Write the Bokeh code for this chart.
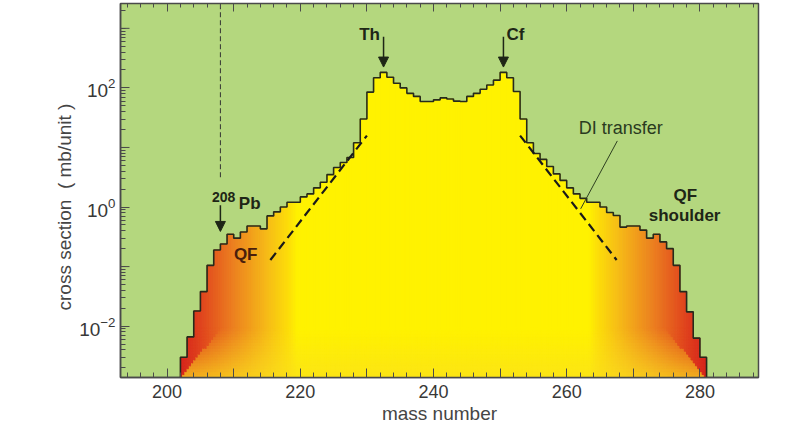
import numpy as np
from bokeh.plotting import figure
from bokeh.models import (ColumnDataSource, LinearAxis, FixedTicker, LogTickFormatter,
                          CustomJSTickFormatter, Arrow, NormalHead, Title)
from bokeh.core.properties import value
from bokeh.embed import file_html
from bokeh.resources import INLINE

# ---------------- data ----------------
mass = list(range(202, 281))          # left edge of each 1-u bin
sigma = [0.0030, 0.0066, 0.018, 0.038, 0.105, 0.19, 0.24, 0.35, 0.30, 0.38,
         0.48, 0.48, 0.43, 0.71, 0.83, 1.0, 1.2, 1.2, 1.48, 1.66,
         2.1, 2.6, 3.5, 4.6, 5.6, 6.8, 12, 30, 85, 148,
         182, 151, 120, 100, 81, 72, 59, 59, 63, 68,
         65, 60, 59, 72, 81, 95, 112, 135, 182, 148,
         87, 30, 12, 7.9, 6.3, 4.8, 3.6, 2.8, 2.1, 1.66,
         1.4, 1.2, 1.2, 1.0, 0.81, 0.72, 0.46, 0.48, 0.48, 0.41,
         0.30, 0.35, 0.26, 0.20, 0.105, 0.038, 0.0174, 0.0063, 0.0030]
x_label_ticks = [200, 220, 240, 260, 280]
y_label_ticks = [1e-2, 1e0, 1e2]

# DI-transfer guide lines (mass, cross section)
di_left_x, di_left_y = [215.5, 230.0], [10 ** -0.89, 10 ** 1.2]
di_right_x, di_right_y = [253.0, 267.5], [10 ** 1.2, 10 ** -0.89]
pb_mass = 208
th_mass, cf_mass = 232.5, 250.5

# ---------------- geometry / style ----------------
X0, X1 = 193.0, 288.8
YL0, YL1 = -2.862, 3.417
PXU = 638 / (X1 - X0)        # px per mass unit
PXD = 377 / (YL1 - YL0)      # px per decade
GREEN = "#b4d77e"
INK = "#1e2616"
AXC = "#454545"
FONT = value("Liberation Sans")

p = figure(width=808, height=426, x_range=(X0, X1), y_range=(10 ** YL0, 10 ** YL1),
           y_axis_type="log", output_backend="svg", toolbar_location=None,
           min_border_left=120, min_border_right=50, min_border_top=3, min_border_bottom=46)
p.background_fill_color = GREEN
p.border_fill_color = "white"
p.outline_line_color = "#4a4a4a"
p.outline_line_width = 1.5
p.grid.visible = False

# ---------------- gradient fill of the histogram ----------------
YB = (251, 224, 30)
H_STOPS = [(0.0, (214, 36, 28)), (3.0, (224, 66, 30)), (8.0, (236, 128, 32)),
           (13.0, (246, 186, 24)), (16.6, (253, 226, 8)), (17.6, (255, 242, 0))]


def hcol(d):
    if d >= H_STOPS[-1][0]:
        return H_STOPS[-1][1]
    for (d0, c0), (d1, c1) in zip(H_STOPS[:-1], H_STOPS[1:]):
        if d <= d1:
            t = (d - d0) / (d1 - d0)
            return tuple(c0[i] + (c1[i] - c0[i]) * t for i in range(3))
    return H_STOPS[0][1]


def mix(a, b, t):
    return tuple(a[i] + (b[i] - a[i]) * t for i in range(3))


def hexc(c):
    return "#%02x%02x%02x" % tuple(int(round(max(0, min(255, v)))) for v in c)


lo_edge, hi_edge = mass[0], mass[-1] + 1
BAND = 50.0
NB = 17
NSUB = 3
W = 0.72
L, R, B_, T, C = [], [], [], [], []
for m, v in zip(mass, sigma):
    lv = np.log10(v)
    for k in range(NSUB):
        x0 = m + k / NSUB
        x1 = m + (k + 1) / NSUB
        xc = 0.5 * (x0 + x1)
        d = min(xc - lo_edge, hi_edge - xc)
        dpx = d * PXU
        H = hcol(d)
        step = BAND / NB
        for j in range(NB):
            b0, b1 = j * step, (j + 1) * step
            l0, l1 = YL0 + b0 / PXD, YL0 + b1 / PXD
            if l0 >= lv:
                break
            l1 = min(l1, lv)
            bc = 0.5 * (b0 + b1)
            col = mix(H, YB, W * (1 - bc / BAND)) if bc < 1.2 * dpx else H
            L.append(x0); R.append(x1); B_.append(10 ** l0); T.append(10 ** l1); C.append(hexc(col))
        l0 = YL0 + BAND / PXD
        if lv > l0:
            L.append(x0); R.append(x1); B_.append(10 ** l0); T.append(v); C.append(hexc(H))

src = ColumnDataSource(dict(left=L, right=R, bottom=B_, top=T, color=C))
p.quad(left="left", right="right", bottom="bottom", top="top", source=src,
       fill_color="color", line_color="color", line_width=1.0)

# outline of the histogram (step line built from the bins)
sx, sy = [mass[0]], [10 ** YL0]
for m, v in zip(mass, sigma):
    sx += [m, m + 1]
    sy += [v, v]
sx.append(mass[-1] + 1)
sy.append(10 ** YL0)
p.line(sx, sy, line_color="#262a1c", line_width=1.6)

# DI transfer dashed lines
p.line(di_left_x, di_left_y, line_color="#1a1a1a", line_width=2.2, line_dash="9 5")
p.line(di_right_x, di_right_y, line_color="#1a1a1a", line_width=2.2, line_dash="9 5")

# 208Pb vertical dashed marker
p.line([pb_mass, pb_mass], [10 ** 0.5, 10 ** YL1], line_color="#333333", line_width=1, line_dash="5 3")

# leader line for DI transfer
p.line([267.6, 262.1], [10 ** 1.11, 10 ** -0.03], line_color="#2e4020", line_width=1)

# arrows
for xm, ys, ye in [(th_mass, 10 ** 2.86, 10 ** 2.35), (cf_mass, 10 ** 2.86, 10 ** 2.35),
                   (pb_mass, 10 ** 0.03, 10 ** -0.41)]:
    p.add_layout(Arrow(end=NormalHead(size=10, fill_color=INK, line_color=INK),
                       x_start=xm, y_start=ys, x_end=xm, y_end=ye,
                       line_color=INK, line_width=1.5))

# annotation texts
p.text(x=[230.4, 252.3, 212.4, 277.8, 277.7], y=[10 ** 2.89, 10 ** 2.89, 10 ** 0.055, 10 ** 0.2, 10 ** -0.15],
       text=["Th", "Cf", "Pb", "QF", "shoulder"], text_font=FONT, text_font_style="bold",
       text_font_size="17px", text_align="center", text_baseline="middle", text_color=INK)
p.text(x=[208.5], y=[10 ** 0.17], text=["208"], text_font=FONT, text_font_style="bold",
       text_font_size="14px", text_align="center", text_baseline="middle", text_color=INK)
p.text(x=[211.8], y=[10 ** -0.79], text=["QF"], text_font=FONT, text_font_style="bold",
       text_font_size="17px", text_align="center", text_baseline="middle", text_color="#4a1e0c")
p.text(x=[268.1], y=[10 ** 1.32], text=["DI transfer"], text_font=FONT,
       text_font_size="18px", text_align="center", text_baseline="middle", text_color="#2a3a1e")

# ---------------- axes ----------------
xt = FixedTicker(ticks=list(range(190, 300, 10)), minor_ticks=list(range(190, 300, 2)))
xa = p.xaxis[0]
xa.ticker = xt
xa.formatter = CustomJSTickFormatter(
    args=dict(labels=x_label_ticks),
    code="return labels.includes(Math.round(tick)) ? String(Math.round(tick)) : '';")
xa.axis_label = "mass number"
xa.axis_label_text_font = "Liberation Sans"
xa.axis_label_text_font_size = "19px"
xa.axis_label_text_font_style = "normal"
xa.axis_label_text_color = AXC
xa.axis_label_standoff = 2

ya = p.yaxis[0]
minor_y = [k * 10.0 ** d for d in range(-3, 4) for k in range(1, 10) if not (k == 1 and d % 2 == 0)]
ya.ticker = FixedTicker(ticks=y_label_ticks, minor_ticks=minor_y)
ya.formatter = LogTickFormatter()

for ax in (xa, ya):
    ax.major_tick_in = 9
    ax.major_tick_out = 0
    ax.minor_tick_in = 5
    ax.minor_tick_out = 0
    ax.major_tick_line_color = "#4a4a4a"
    ax.minor_tick_line_color = "#4a4a4a"
    ax.axis_line_color = "#4a4a4a"
    ax.axis_line_width = 1.5
    ax.major_label_text_font = "Liberation Sans"
    ax.major_label_text_color = "#383838"
xa.major_label_text_font_size = "18px"
ya.major_label_text_font_size = "19px"
xa.major_label_standoff = 7
ya.major_label_standoff = 5

# y title as a side title so it can be shifted like in the reference
p.add_layout(Title(text="cross section\u00a0\u00a0( mb/unit )", align="left", offset=67,
                   standoff=4, text_font="Liberation Sans", text_font_size="19px",
                   text_font_style="normal", text_color=AXC), "left")

top = LinearAxis(ticker=xt, formatter=CustomJSTickFormatter(code="return '';"),
                 major_tick_in=8, major_tick_out=0, minor_tick_in=4, minor_tick_out=0,
                 major_label_standoff=0, major_label_text_font_size="0px",
                 axis_line_color="#4a4a4a", major_tick_line_color="#4a4a4a",
                 minor_tick_line_color="#4a4a4a")
p.add_layout(top, "above")

# long ticks at the unlabeled decades
odd_dec = [10 ** -1, 10 ** 1, 10 ** 3]
p.segment(x0=[X0] * 3, y0=odd_dec, x1=[X0 + 9 / PXU] * 3, y1=odd_dec, line_color="#4a4a4a", line_width=1)

open("out.html", "w").write(file_html(p, INLINE))
